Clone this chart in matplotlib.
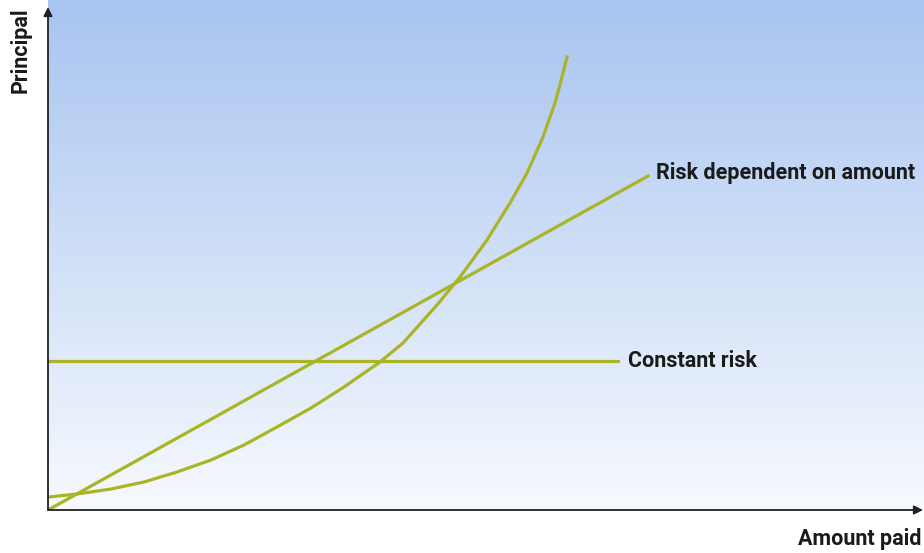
import numpy as np
import matplotlib.pyplot as plt

# values (amount paid vs principal, arbitrary units)
curve_x = [1, 29, 63, 96, 129, 163, 196, 229, 263, 296, 332, 355, 389,
           412, 439, 462, 479, 495, 507, 514, 519]
curve_y = [13, 16, 21, 28, 38, 50, 65, 83, 102, 123, 148, 167, 205,
           233, 270, 307, 337, 373, 407, 433, 453]
linear_x = [0, 600]
linear_y = [0, 334]
const_x = [0, 570]
const_y = [149, 149]

labels = ["Risk dependent on amount", "Constant risk"]
line_color = "#a9b526"


def main():
    fig = plt.figure(figsize=(9.24, 5.53), dpi=100)
    ax = fig.add_axes([48 / 924, 43 / 553, 876 / 924, 510 / 553])
    ax.set_xlim(0, 876)
    ax.set_ylim(0, 510)
    ax.axis("off")

    # blue -> white gradient background
    top = np.array([0.66, 0.77, 0.94])
    bottom = np.array([0.97, 0.98, 0.995])
    t = np.linspace(0, 1, 256)[:, None]
    grad = top * (1 - t) + bottom * t
    grad = np.repeat(grad[:, None, :], 2, axis=1)
    ax.imshow(grad, extent=(0, 876, 0, 510), aspect="auto", zorder=0)

    ax.plot(curve_x, curve_y, color=line_color, lw=2.3, zorder=2,
            solid_joinstyle="round")
    ax.plot(linear_x, linear_y, color=line_color, lw=2.3, zorder=2)
    ax.plot(const_x, const_y, color=line_color, lw=2.3, zorder=2)

    font = dict(family=["Roboto", "DejaVu Sans"], weight="bold",
                color="#1a1a1a")
    ax.text(linear_x[-1] + 8, linear_y[-1] + 3, labels[0], fontsize=15.5,
            va="center", ha="left", **font)
    ax.text(const_x[-1] + 10, const_y[0], labels[1], fontsize=15.5,
            va="center", ha="left", **font)

    # axes with arrows
    ax.annotate("", xy=(0, 503), xytext=(0, 0),
                arrowprops=dict(arrowstyle="-|>", color="#222222", lw=1.3,
                                mutation_scale=13, shrinkA=0, shrinkB=0))
    ax.annotate("", xy=(875, 0), xytext=(0, 0),
                arrowprops=dict(arrowstyle="-|>", color="#222222", lw=1.3,
                                mutation_scale=13, shrinkA=0, shrinkB=0))

    fig.text(21 / 924, 1 - 50 / 553, "Principal", rotation=90, fontsize=15.5,
             va="center", ha="center", **font)
    fig.text(921 / 924, 1 - 539 / 553, "Amount paid", fontsize=15.5,
             va="center", ha="right", **font)

    fig.savefig("out.png", dpi=100)


if __name__ == "__main__":
    main()
